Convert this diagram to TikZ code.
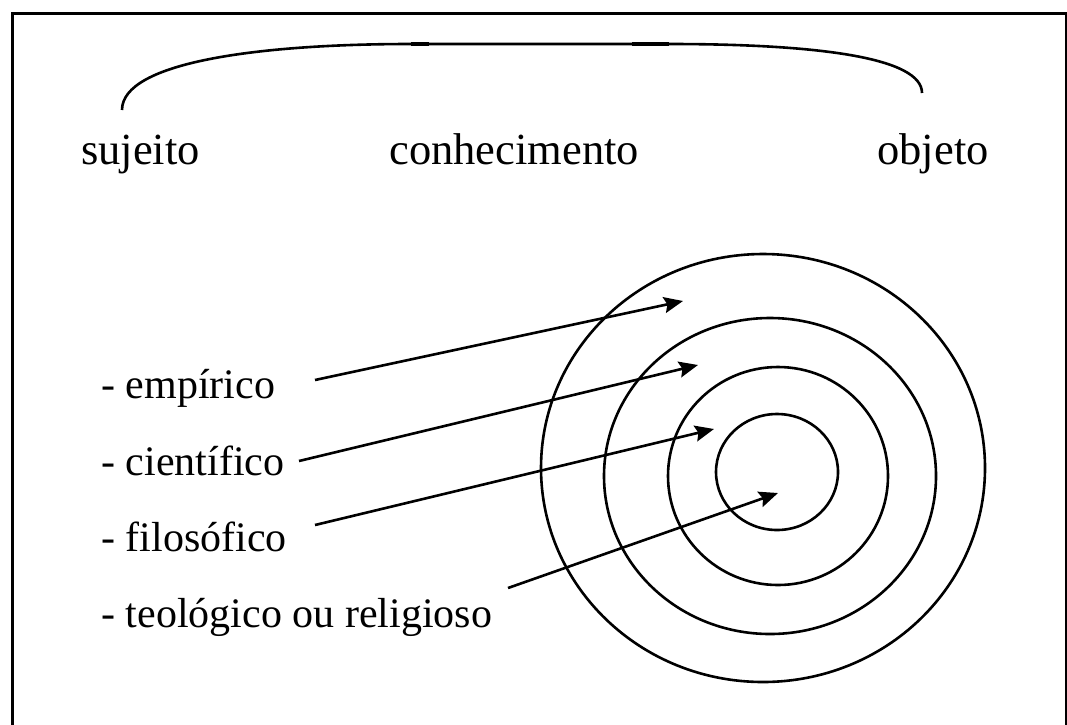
\documentclass[tikz,border=0pt]{standalone}
\usepackage{fontspec}
\setmainfont{Liberation Serif}
\usetikzlibrary{arrows.meta}

\begin{document}
\begin{tikzpicture}[
    x=1pt, y=-1pt,
    line width=2.6pt,
    >={Stealth[length=19pt, width=16pt, inset=3pt]},
    word/.style={inner sep=0pt, font=\fontsize{42}{50}\selectfont},
    bigword/.style={inner sep=0pt, font=\fontsize{44.5}{52}\selectfont},
    ring/.style={line width=2.6pt}
]
    \useasboundingbox (0,0) rectangle (1067,724);
    % 外框
    \draw[line width=3pt] (12,13) rectangle (1066,740);

    % 上方三个词
    \node[bigword, anchor=base west] (sujeito) at (80,164) {sujeito};
    \node[bigword, anchor=base west] (conhec) at (388,164) {conhecimento};
    \node[bigword, anchor=base east] (objeto) at (990,164) {objeto};

    % 上方弧线 (两端与顶部)
    \coordinate (arcL) at (122,110);
    \coordinate (arcR) at (922,93);
    \coordinate (topL) at (411,44);
    \coordinate (topR) at (669,44);
    \draw (arcL) .. controls (122,62) and (260,44) .. (topL) -- (topR)
        .. controls (820,44) and (922,58) .. (arcR);
    \draw[line width=4pt] (topL) -- (429,44);
    \draw[line width=4pt] (632,44) -- (topR);

    % 同心圆 (从外到内)
    \draw[ring] (763,468) ellipse [x radius=222pt, y radius=214pt];
    \draw[ring] (770,476) ellipse [x radius=166pt, y radius=158pt];
    \draw[ring] (778,476) ellipse [x radius=110pt, y radius=109pt];
    \draw[ring] (777,472) ellipse [x radius=61pt, y radius=58pt];

    % 左侧四种知识
    \node[word, anchor=base west] (emp) at (100,398) {- empírico};
    \node[word, anchor=base west] (cie) at (100,475) {- científico};
    \node[word, anchor=base west] (fil) at (100,551) {- filosófico};
    \node[word, anchor=base west] (teo) at (100,627) {- teológico ou religioso};

    % 箭头起点与终点
    \coordinate (emp0) at (315,380);
    \coordinate (emp1) at (683,301);
    \coordinate (cie0) at (299,461);
    \coordinate (cie1) at (698,365);
    \coordinate (fil0) at (315,525);
    \coordinate (fil1) at (714,429);
    \coordinate (teo0) at (508,588);
    \coordinate (teo1) at (778,493);

    % 1. 经验知识 -> 最外环
    \draw[->] (emp0) -- (emp1);
    % 2. 科学知识 -> 第二环
    \draw[->] (cie0) -- (cie1);
    % 3. 哲学知识 -> 第三环
    \draw[->] (fil0) -- (fil1);
    % 4. 神学知识 -> 圆心
    \draw[->] (teo0) -- (teo1);

\end{tikzpicture}
\end{document}
